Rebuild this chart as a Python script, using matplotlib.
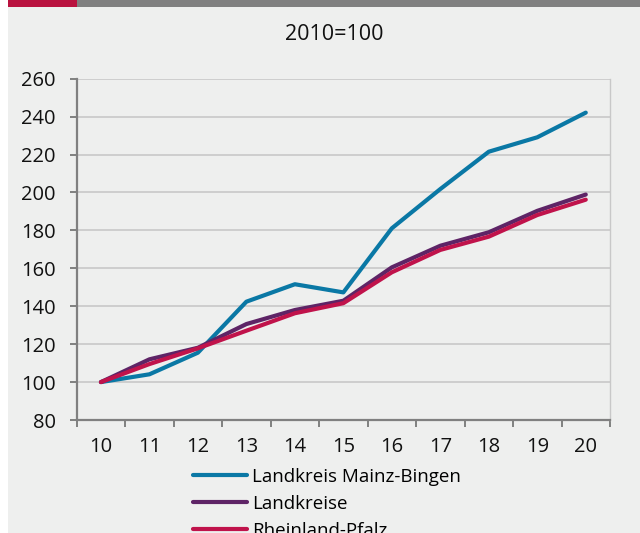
import matplotlib.pyplot as plt
from matplotlib.patches import Rectangle

# Index values, 2010 = 100
years = ["10", "11", "12", "13", "14", "15", "16", "17", "18", "19", "20"]
mainz_bingen = [100, 104.1, 115.5, 142.4, 151.6, 147.3, 181.1, 201.8, 221.5, 229.1, 242.1]
landkreise = [100, 112.0, 118.1, 130.6, 138.0, 142.9, 160.5, 171.9, 179.0, 190.3, 198.9]
rheinland_pfalz = [100, 109.5, 117.8, 127.1, 136.3, 141.6, 157.9, 169.7, 176.7, 188.1, 196.2]

series_names = ["Landkreis Mainz-Bingen", "Landkreise", "Rheinland-Pfalz"]
series_colors = ["#0a78a5", "#5e2466", "#c0134b"]

bg = "#eeefee"
fs_tick = 14.5
fs_legend = 13.5
plt.rcParams["font.family"] = ["Open Sans", "DejaVu Sans"]

fig = plt.figure(figsize=(6.4, 5.33), dpi=100, facecolor="white")

# panel background and header bar
W, H = 640, 533
fig.add_artist(Rectangle((8 / W, 0), 1 - 8 / W, 1, transform=fig.transFigure,
                         facecolor=bg, edgecolor="none", zorder=-10))
fig.add_artist(Rectangle((8 / W, 1 - 7 / H), 69 / W, 7 / H, transform=fig.transFigure,
                         facecolor="#b9123f", edgecolor="none", zorder=-9))
fig.add_artist(Rectangle((77 / W, 1 - 7 / H), 1 - 77 / W, 7 / H, transform=fig.transFigure,
                         facecolor="#808080", edgecolor="none", zorder=-9))

ax = fig.add_axes([76.7 / W, 1 - 420 / H, (610 - 76.7) / W, (420 - 78.7) / H])
ax.set_zorder(2)
ax.set_facecolor(bg)

x = list(range(len(years)))
for vals, name, col in zip([mainz_bingen, landkreise, rheinland_pfalz], series_names, series_colors):
    ax.plot(x, vals, color=col, lw=3.0, label=name, solid_capstyle="round",
            solid_joinstyle="round", zorder=3)

ax.set_ylim(80, 260)
ax.set_yticks(range(80, 261, 20))
ax.set_xlim(-0.5, len(years) - 0.5)
ax.set_xticks([i - 0.5 for i in range(len(years) + 1)])
ax.set_xticklabels([])
ax.set_xticks(x, minor=True)
ax.set_xticklabels(years, minor=True)

ax.grid(axis="y", color="#c8c8c8", lw=1.2, zorder=1)
ax.set_axisbelow(True)

for side in ["left", "bottom"]:
    ax.spines[side].set_color("#808080")
    ax.spines[side].set_linewidth(1.6)
ax.spines["right"].set_color("#c8c8c8")
ax.spines["right"].set_linewidth(1.0)
ax.spines["top"].set_visible(False)

ax.tick_params(axis="y", which="major", length=5, width=1.4, color="#808080",
               pad=10, labelsize=fs_tick, labelcolor="#111111")
ax.tick_params(axis="x", which="major", length=5, width=1.4, color="#808080")
ax.tick_params(axis="x", which="minor", length=0, pad=12, labelsize=fs_tick,
               labelcolor="#111111")

fig.text(334 / W, 1 - 35 / H, "2010=100", ha="center", va="center",
         fontsize=15.5, color="#111111")

fig.legend(loc="upper left", bbox_to_anchor=(193 / W, 1 - 468 / H), frameon=False,
           fontsize=fs_legend, handlelength=2.9, handletextpad=0.25, labelspacing=0.47,
           borderaxespad=0, borderpad=0)

fig.savefig("out.png", dpi=100, facecolor=fig.get_facecolor())
